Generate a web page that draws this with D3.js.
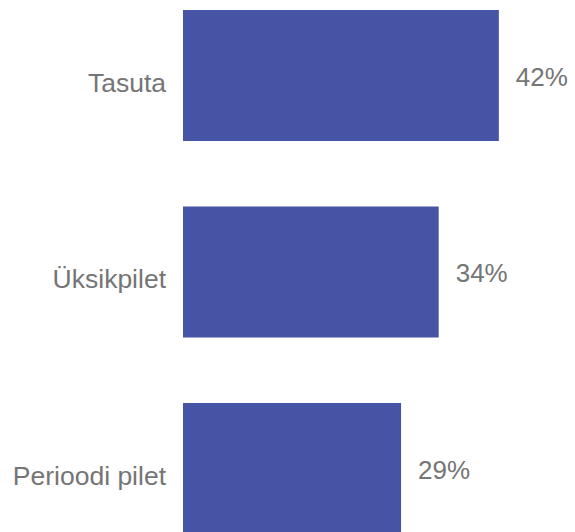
<!DOCTYPE html>
<meta charset="utf-8">
<head>
<style>
body { margin: 0; background: #fff; }
.label { font: 26px "Liberation Sans", Arial, sans-serif; fill: #757575; }
.cat { font-size: 26.5px; }
</style>
</head>
<body>
<script src="https://d3js.org/d3.v7.min.js"></script>
<script>

var categories = ["Tasuta", "Üksikpilet", "Perioodi pilet"];
var values = [42, 34, 29];

var width = 575,
    height = 532;

var svg = d3.select("body").append("svg")
    .attr("width", width)
    .attr("height", height);

var x = d3.scaleLinear().domain([0, 50]).range([183, 559]);
var y = d3.scaleBand().domain(categories).range([10, 534]).paddingInner(1 / 3);

var data = categories.map(function (c, i) { return {name: c, value: values[i]}; });

svg.selectAll("rect")
    .data(data)
  .enter().append("rect")
    .attr("x", x(0))
    .attr("y", function (d) { return y(d.name); })
    .attr("width", function (d) { return x(d.value) - x(0); })
    .attr("height", y.bandwidth())
    .style("fill", "#4654a5");

// category names, sit a bit below the bar middle
svg.selectAll(".cat")
    .data(data)
  .enter().append("text")
    .attr("class", "label cat")
    .attr("x", x(0) - 17)
    .attr("y", function (d) { return y(d.name) + y.bandwidth() / 2 + 16; })
    .style("text-anchor", "end")
    .text(function (d) { return d.name; });

svg.selectAll(".val")
    .data(data)
  .enter().append("text")
    .attr("class", "label val")
    .attr("x", function (d) { return x(d.value) + 17; })
    .attr("y", function (d) { return y(d.name) + y.bandwidth() / 2 + 10; })
    .text(function (d) { return d.value + "%"; });

</script>
</body>
